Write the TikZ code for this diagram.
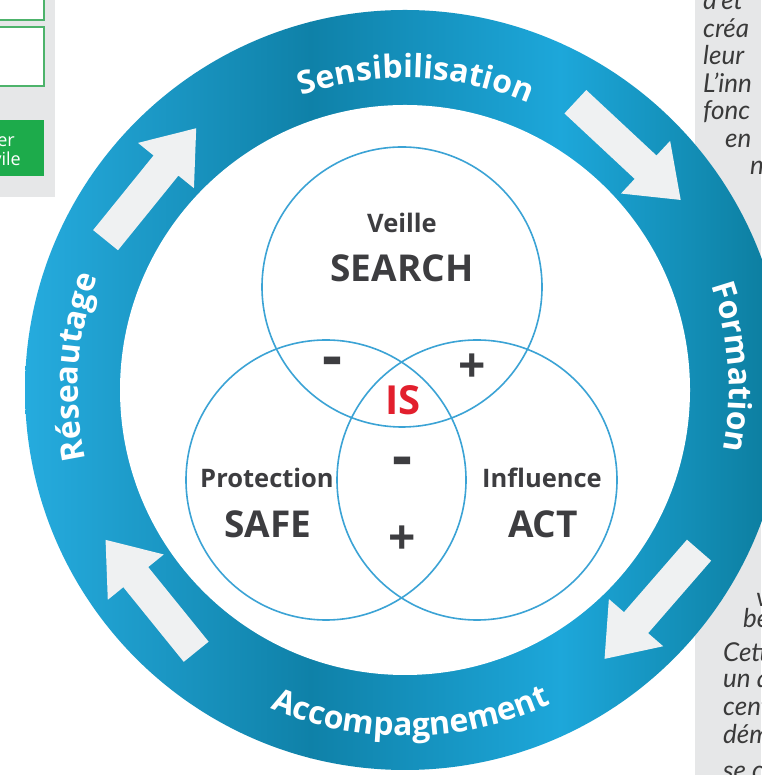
\documentclass[tikz,border=0pt]{standalone}
\usepackage{fontspec}
\newfontfamily\labelfont{Open Sans}
\newfontfamily\sidefont{Lato}
\usetikzlibrary{decorations.text}
\definecolor{ringlight}{HTML}{26ACDF}
\definecolor{ringdark}{HTML}{0F81A8}
\definecolor{ringlighttwo}{HTML}{1DA7DA}
\definecolor{ringdarkr}{HTML}{0B7A9A}
\definecolor{vennblue}{HTML}{3BA3D5}
\definecolor{txtgray}{HTML}{3D3D40}
\definecolor{isred}{HTML}{E21F2D}
\definecolor{panelgray}{HTML}{E6E7E8}
\definecolor{boxgreen}{HTML}{1DAB4B}
\definecolor{boxline}{HTML}{4DB36B}
\definecolor{arrowwhite}{HTML}{EFF1F2}
\definecolor{sidetext}{HTML}{3A3A3A}
\begin{document}
\begin{tikzpicture}[x=1pt,y=1pt,
  vcircle/.style={circle, draw=vennblue, line width=1.6pt, minimum size=280pt, inner sep=0pt},
  smalltitle/.style={font=\fontsize{25.5}{25.5}\labelfont\bfseries, text=txtgray, anchor=base, inner sep=0pt},
  bigtitle/.style={font=\fontsize{37}{37}\labelfont\bfseries, text=txtgray, anchor=base, inner sep=0pt},
  signtxt/.style={font=\fontsize{48}{48}\labelfont\bfseries, text=txtgray, inner sep=0pt},
  minustxt/.style={font=\fontsize{62}{62}\labelfont\bfseries, text=txtgray, inner sep=0pt, anchor=base},
  ringtext/.style={decorate, decoration={text along path, text align=center, text color=white, text={|\fontsize{32}{32}\labelfont\bfseries|#1}}},
  sidetxt/.style={font=\fontsize{26}{26}\sidefont\itshape, text=sidetext, anchor=base west, inner sep=0pt},
  panelbox/.style={draw=boxline, line width=1.5pt, fill=white},
  arrowfill/.style={fill=arrowwhite}
]
\useasboundingbox (0,0) rectangle (761,775);
\fill[white] (0,0) rectangle (761,775);

% left panel
\fill[panelgray] (0,578) rectangle (55,775);
\draw[panelbox] (-5,755) rectangle (44,790);
\draw[panelbox] (-5,689) rectangle (44,748);
\fill[boxgreen] (-5,599) rectangle (44,655);
\node[font=\fontsize{18}{18}\labelfont, text=white, anchor=base east, inner sep=0pt] (er) at (15,628) {er};
\node[font=\fontsize{18}{18}\labelfont, text=white, anchor=base east, inner sep=0pt] (vile) at (21,609) {vile};

% right panel
\fill[panelgray] (695,0) rectangle (761,775);
\node[sidetxt] (s1) at (703,765) {d’ét};
\node[sidetxt] (s2) at (703,737) {créa};
\node[sidetxt] (s3) at (703,710) {leur};
\node[sidetxt] (s4) at (703,682) {L’inn};
\node[sidetxt] (s5) at (703,655) {fonc};
\node[sidetxt] (s6) at (725,627) {en};
\node[sidetxt] (s7) at (750,600) {n};
\node[sidetxt] (b1) at (756,168) {v};
\node[sidetxt] (b2) at (743,147) {be};
\node[sidetxt] (b3) at (723,113) {Cett};
\node[sidetxt] (b4) at (723,87) {un a};
\node[sidetxt] (b5) at (723,59) {cent};
\node[sidetxt] (b6) at (723,31) {dém};
\node[sidetxt] (b7) at (723,-5) {se c};

% ring
\coordinate (c) at (405,385);
\begin{scope}
  \clip (c) circle[radius=380];
  \shade[left color=ringlight, right color=ringdark] (20,0) rectangle (311,775);
  \shade[left color=ringdark, right color=ringlighttwo] (310,0) rectangle (561,775);
  \shade[left color=ringlighttwo, right color=ringdarkr] (560,0) rectangle (790,775);
\end{scope}
\fill[white] (c) circle[radius=285];

% arrows
\foreach \a in {141,47,-41,219} {
  \fill[arrowfill, shift={(c)}, rotate=\a] (311,72) -- (343,72) -- (343,-24) -- (363,-24) -- (327,-72) -- (291,-24) -- (311,-24) -- cycle;
}

% ring labels
\path[ringtext=Sensibilisation] (c) ++(148:312) arc[start angle=148, end angle=28, radius=312];
\path[ringtext=Formation] (c) ++(64:324) arc[start angle=64, end angle=-56, radius=324];
\path[ringtext=Réseautage] (c) ++(236:327) arc[start angle=236, end angle=116, radius=327];
\path[ringtext=Accompagnement] (c) ++(211:346) arc[start angle=211, end angle=331, radius=346];

% venn
\node[vcircle] (search) at (402,488) {};
\node[vcircle] (safe) at (326,295) {};
\node[vcircle] (act) at (477,295) {};

\node[smalltitle] (veille) at (402,542) {Veille};
\node[bigtitle] (searcht) at (402,493) {SEARCH};
\node[font=\fontsize{40}{40}\labelfont\bfseries, text=isred, anchor=base, inner sep=0pt] (is) at (403,360) {IS};
\node[smalltitle] (protection) at (267,287) {Protection};
\node[bigtitle] (safet) at (268,237) {SAFE};
\node[smalltitle] (influence) at (542,287) {Influence};
\node[bigtitle] (actt) at (543,237) {ACT};

\node[minustxt] (m1) at (332,397) {-};
\node[signtxt] (p1) at (472,407) {+};
\node[minustxt] (m2) at (402,297) {-};
\node[signtxt] (p2) at (402,235) {+};
\end{tikzpicture}
\end{document}
